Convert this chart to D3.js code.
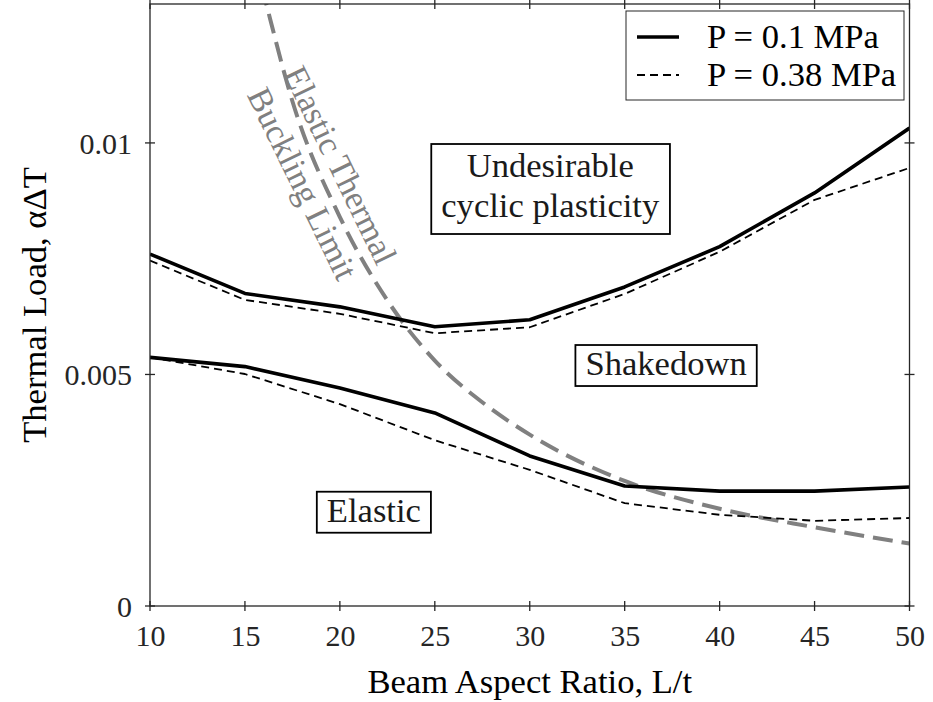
<!DOCTYPE html>
<html>
<head>
<meta charset="utf-8">
<script src="https://cdn.jsdelivr.net/npm/d3@7"></script>
<style>
  html, body { margin: 0; padding: 0; background: #fff; }
  svg { display: block; font-family: "Liberation Serif", "Times New Roman", serif; }
</style>
</head>
<body>
<svg id="chart" width="933" height="702"></svg>
<script>
// Beam aspect ratios (L/t) at which the thresholds were evaluated
const aspectRatios = [10, 15, 20, 25, 30, 35, 40, 45, 50];

// Upper boundary: shakedown / cyclic plasticity
const upperP01  = [0.0076, 0.00675, 0.00646, 0.00603, 0.00618, 0.00689, 0.00776, 0.00892, 0.01032];
const upperP038 = [0.00746, 0.00661, 0.00631, 0.00589, 0.00602, 0.00674, 0.00765, 0.00877, 0.00946];

// Lower boundary: elastic / shakedown
const lowerP01  = [0.00537, 0.00517, 0.00471, 0.00417, 0.00324, 0.00259, 0.00248, 0.00248, 0.00257];
const lowerP038 = [0.00537, 0.00501, 0.00436, 0.00358, 0.00294, 0.00222, 0.00197, 0.00184, 0.0019];

// Elastic thermal buckling limit
const bucklingRatio = [15.5, 16, 17.5, 20, 22.5, 25, 27.5, 30, 35, 40, 45, 50];
const bucklingLoad  = [0.0140, 0.0132, 0.0109, 0.0084, 0.0066, 0.0053, 0.0044, 0.0037, 0.0027, 0.0021, 0.0017, 0.00135];

const xTicks = [10, 15, 20, 25, 30, 35, 40, 45, 50];
const yTicks = [0, 0.005, 0.01];
const yTickLabels = ["0", "0.005", "0.01"];
const legendLabels = ["P = 0.1 MPa", "P = 0.38 MPa"];

const svg = d3.select("#chart");
const axisColor = "#262626";
const serif = "Liberation Serif, Times New Roman, serif";
const margin = { left: 150, right: 23.5, top: 4, bottom: 96 };
const W = 933, H = 702;
const x = d3.scaleLinear().domain([10, 50]).range([margin.left, W - margin.right]);
const y = d3.scaleLinear().domain([0, 0.013]).range([H - margin.bottom, margin.top]);

svg.append("defs").append("clipPath").attr("id", "plotClip")
  .append("rect")
  .attr("x", x(10)).attr("y", y(0.013))
  .attr("width", x(50) - x(10)).attr("height", y(0) - y(0.013));

const plot = svg.append("g").attr("clip-path", "url(#plotClip)");

const line = d3.line().x(d => x(d[0])).y(d => y(d[1]));
const smooth = d3.line().x(d => x(d[0])).y(d => y(d[1])).curve(d3.curveMonotoneX);

// Buckling limit curve (gray, long dashes)
plot.append("path")
  .datum(d3.zip(bucklingRatio, bucklingLoad))
  .attr("d", smooth)
  .attr("fill", "none").attr("stroke", "#808080")
  .attr("stroke-width", 4).attr("stroke-dasharray", "20,9");

const solid = { width: 3.6, dash: null };
const dashed = { width: 1.8, dash: "8,5" };
[[upperP01, solid], [lowerP01, solid], [upperP038, dashed], [lowerP038, dashed]].forEach(([vals, st]) => {
  plot.append("path")
    .datum(d3.zip(aspectRatios, vals))
    .attr("d", line)
    .attr("fill", "none").attr("stroke", "#000")
    .attr("stroke-width", st.width)
    .attr("stroke-dasharray", st.dash)
    .attr("stroke-linejoin", "round");
});

// Axes box with ticks on all four sides
const tickLen = 5;
const axes = svg.append("g").attr("stroke", axisColor).attr("stroke-width", 1.3);
axes.append("rect")
  .attr("x", x(10)).attr("y", y(0.013))
  .attr("width", x(50) - x(10)).attr("height", y(0) - y(0.013))
  .attr("fill", "none");

const xAxisB = d3.axisBottom(x).tickValues(xTicks).tickSize(0).tickFormat(d3.format("d"));
const gxb = svg.append("g").attr("transform", `translate(0,${y(0)})`).call(xAxisB);
gxb.select(".domain").remove();
gxb.selectAll("text").attr("y", 40).attr("dy", 0)
  .attr("font-size", 30).attr("fill", axisColor).attr("font-family", serif);

const yAxisL = d3.axisLeft(y).tickValues(yTicks).tickSize(0).tickFormat((d, i) => yTickLabels[i]);
const gyl = svg.append("g").attr("transform", `translate(${x(10)},0)`).call(yAxisL);
gyl.select(".domain").remove();
gyl.selectAll("text").attr("x", -18).attr("dy", "0.34em")
  .attr("font-size", 30).attr("fill", axisColor).attr("font-family", serif);

xTicks.forEach(t => {
  axes.append("line").attr("x1", x(t)).attr("x2", x(t)).attr("y1", y(0) - tickLen).attr("y2", y(0) + tickLen);
  axes.append("line").attr("x1", x(t)).attr("x2", x(t)).attr("y1", y(0.013) - tickLen).attr("y2", y(0.013) + tickLen);
});
yTicks.forEach(t => {
  axes.append("line").attr("y1", y(t)).attr("y2", y(t)).attr("x1", x(10) - tickLen).attr("x2", x(10) + tickLen);
  axes.append("line").attr("y1", y(t)).attr("y2", y(t)).attr("x1", x(50) - tickLen).attr("x2", x(50) + tickLen);
});

// Axis titles
const labelSize = 34.6;
svg.append("text")
  .attr("x", (x(10) + x(50)) / 2).attr("y", 693)
  .attr("text-anchor", "middle").attr("font-size", labelSize).attr("fill", "#000")
  .text("Beam Aspect Ratio, L/t");
svg.append("text")
  .attr("transform", `translate(46,${(y(0) + y(0.013)) / 2}) rotate(-90)`)
  .attr("text-anchor", "middle").attr("font-size", labelSize).attr("fill", "#000")
  .text("Thermal Load, αΔT");

// Region annotations in boxes (anchored at centre x / first baseline)
const regions = [
  { lines: ["Undesirable", "cyclic plasticity"], at: [31.08, 0.009264] },
  { lines: ["Shakedown"], at: [37.18, 0.004988] },
  { lines: ["Elastic"], at: [21.79, 0.00182] }
];
const lh = 40, pad = 10;
regions.forEach(r => {
  const g = svg.append("g").attr("transform", `translate(${x(r.at[0])},${y(r.at[1])})`);
  const rect = g.append("rect").attr("fill", "#fff").attr("stroke", "#000").attr("stroke-width", 1.8);
  const t = g.append("text").attr("text-anchor", "middle").attr("font-size", labelSize).attr("fill", "#1a1a1a");
  const n = r.lines.length;
  r.lines.forEach((s, i) => {
    t.append("tspan").attr("x", 0).attr("y", i * lh).text(s);
  });
  const bb = t.node().getBBox();
  const top = -30 - (n > 1 ? 3 : 0);
  const bottom = (n - 1) * lh + 11 + (n > 1 ? 6 : 0);
  rect.attr("x", bb.x - pad).attr("width", bb.width + 2 * pad)
      .attr("y", top).attr("height", bottom - top);
});

// Buckling limit label, rotated along the curve
const bl = svg.append("text")
  .attr("transform", "translate(320,175) rotate(64)")
  .attr("text-anchor", "middle").attr("font-size", 34).attr("fill", "#808080");
bl.append("tspan").attr("x", 0).attr("y", -11).text("Elastic Thermal");
bl.append("tspan").attr("x", 0).attr("y", 31).text("Buckling Limit");

// Legend
const lg = svg.append("g");
lg.append("rect").attr("x", 626).attr("y", 11).attr("width", 278).attr("height", 89)
  .attr("fill", "#fff").attr("stroke", axisColor).attr("stroke-width", 1);
const legendStyles = [solid, dashed];
legendLabels.forEach((lab, i) => {
  const ly = 37 + i * 38;
  lg.append("line").attr("x1", 637).attr("x2", 679).attr("y1", ly).attr("y2", ly)
    .attr("stroke", "#000").attr("stroke-width", legendStyles[i].width)
    .attr("stroke-dasharray", legendStyles[i].dash);
  lg.append("text").attr("x", 707).attr("y", ly + 10.5)
    .attr("font-size", labelSize).attr("fill", "#000").text(lab);
});
</script>
</body>
</html>
